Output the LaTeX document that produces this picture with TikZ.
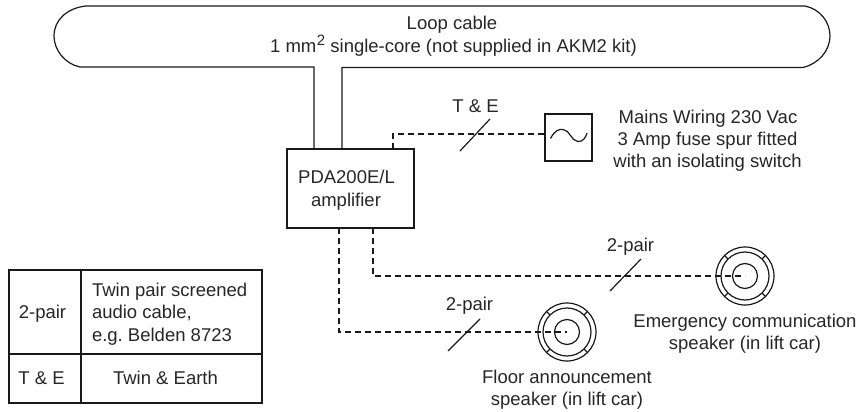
\documentclass[tikz,border=0pt]{standalone}
\usepackage{fontspec}
\setmainfont{Liberation Sans}
\frenchspacing
\tikzset{
  every node/.style={font=\fontsize{18.5}{22}\selectfont, text=black!85, inner sep=0pt, outer sep=0pt, align=center},
  lbl/.style={anchor=base},
  lblw/.style={anchor=base west},
  solidline/.style={draw=black!90, line width=1.2pt},
  dashline/.style={draw=black!90, line width=1.2pt, dash pattern=on 6pt off 4pt},
  slashline/.style={draw=black!90, line width=1.2pt},
}
\begin{document}
\begin{tikzpicture}[x=1pt,y=-1pt]
\useasboundingbox (0,0) rectangle (860,412);
% loop cable
\draw[solidline] (314,149) -- (314,67) -- (80,67) .. controls (65,64) and (54,50) .. (54,36)
  .. controls (54,20) and (67,8) .. (86,6) -- (805,6) .. controls (820,9) and (830,22) .. (830,36)
  .. controls (830,51) and (818,64) .. (803,67.5) -- (342,67.5) -- (342,149);
\node[lbl] (loopA) at (452,30) {Loop cable};
\node[lbl] (loopB) at (453.5,53) {1 mm\hspace{0.5pt}\raisebox{7.5pt}{\fontsize{15}{16}\selectfont 2} single-core (not supplied in AKM2 kit)};
% amplifier
\node[solidline, draw, minimum width=127pt, minimum height=79pt] (amp) at (350.5,188.5) {};
\node[lbl] (ampA) at (346.5,183) {PDA200E/L};
\node[lbl] (ampB) at (346,206) {amplifier};
% mains
\node[solidline, draw, minimum width=47pt, minimum height=47pt] (mains) at (568.5,137.5) {};
\draw[solidline] (550.5,138.5) .. controls (555,130) and (559,129) .. (563,129.5) .. controls (570,130) and (571,141) .. (578,141.5) .. controls (583,142) and (586,137) .. (587,133);
\coordinate (ampT) at (393,149);
\draw[dashline] (ampT) -- (393,134) -- (mains.west |- 0,134);
\coordinate (s1a) at (460,151); \coordinate (s1b) at (490,119);
\draw[slashline] (s1a) -- (s1b);
\node[lbl] (lblTE) at (475.5,112) {T \& E};
\node[lbl] (mainsA) at (708,123) {Mains Wiring 230 Vac};
\node[lbl] (mainsB) at (707.5,145.3) {3 Amp fuse spur fitted};
\node[lbl] (mainsC) at (707.5,167.7) {with an isolating switch};
% speakers
\coordinate (spkA) at (567,332);
\coordinate (spkB) at (745,276);
\foreach \c in {spkA,spkB}{
  \draw[solidline] (\c) circle (29);
  \draw[solidline] (\c) circle (24);
  \draw[solidline] (\c) circle (12.5);
  \foreach \a in {45,135,225,315}{
    \draw[solidline] (\c) ++(\a:24) -- ++(\a:5);
  }
}
\coordinate (ampL) at (339,228);
\coordinate (ampR) at (373,228);
\draw[dashline] (ampL) -- (339,332) -- (spkA);
\draw[dashline] (ampR) -- (373,276) -- (spkB);
\coordinate (s2a) at (448,351); \coordinate (s2b) at (480,319);
\draw[slashline] (s2a) -- (s2b);
\coordinate (s3a) at (610,291); \coordinate (s3b) at (641,259);
\draw[slashline] (s3a) -- (s3b);
\node[lbl] (pairA) at (469.5,310) {2-pair};
\node[lbl] (pairB) at (630.5,251) {2-pair};
\node[lbl] (emA) at (745,327) {Emergency communication};
\node[lbl] (emB) at (745,349) {speaker (in lift car)};
\node[lbl] (flA) at (567,383) {Floor announcement};
\node[lbl] (flB) at (567,405) {speaker (in lift car)};
% table
\draw[solidline] (9,270) rectangle (262,403);
\draw[solidline] (9,354) -- (262,354);
\draw[solidline] (81,270) -- (81,403);
\node[lbl] (tA) at (42.5,318) {2-pair};
\node[lbl] (tB) at (41.5,384) {T \& E};
\node[lblw] (tC) at (92,296) {Twin pair screened};
\node[lblw] (tD) at (92,318) {audio cable,};
\node[lblw] (tE) at (92,341) {e.g. Belden 8723};
\node[lbl] (tF) at (165.5,384) {Twin \& Earth};
\end{tikzpicture}
\end{document}
